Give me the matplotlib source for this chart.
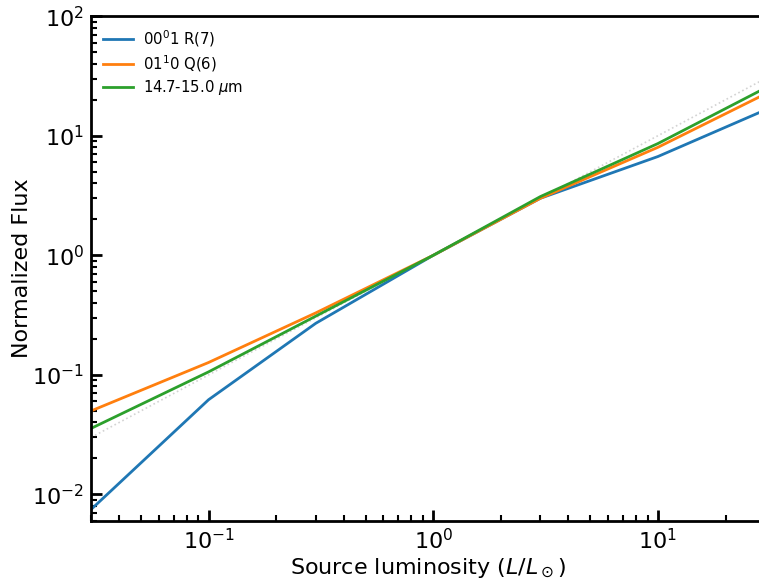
import numpy as np
import matplotlib.pyplot as plt

lum = [0.03, 0.1, 0.3, 1.0, 3.0, 10.0, 30.0]
flux_r7 = [0.0075, 0.062, 0.27, 1.0, 3.0, 6.7, 16.4]
flux_q6 = [0.050, 0.127, 0.33, 1.0, 3.0, 8.0, 22.3]
flux_band = [0.0357, 0.106, 0.31, 1.0, 3.1, 8.6, 25.0]

fig = plt.figure(figsize=(7.59, 5.83), dpi=100)
ax = fig.add_axes([0.12, 0.1063, 0.888, 0.866])

# reference line L/L0
ax.plot(lum, lum, ls=':', color='lightgray', lw=1.2)

ax.plot(lum, flux_r7, color='tab:blue', lw=2, label=r'00$^0$1 R(7)')
ax.plot(lum, flux_q6, color='tab:orange', lw=2, label=r'01$^1$0 Q(6)')
ax.plot(lum, flux_band, color='tab:green', lw=2, label=r'14.7-15.0 $\mu$m')

ax.set_xscale('log')
ax.set_yscale('log')
ax.set_xlim(0.03, 30)
ax.set_ylim(0.006, 100)

for s in ax.spines.values():
    s.set_linewidth(2)
ax.tick_params(which='major', direction='in', length=8, width=2, labelsize=16, pad=5)
ax.tick_params(which='minor', direction='in', length=4, width=1.5)

ax.set_xlabel(r'Source luminosity ($L/L_\odot$)', fontsize=16, labelpad=2)
ax.set_ylabel('Normalized Flux', fontsize=16)
ax.yaxis.set_label_coords(-0.088, 0.5)
ax.legend(loc='upper left', frameon=False, fontsize=10.7, labelspacing=0.3,
          handlelength=2.0, handletextpad=0.7, borderaxespad=0.4)

fig.savefig('out.png', dpi=100)
